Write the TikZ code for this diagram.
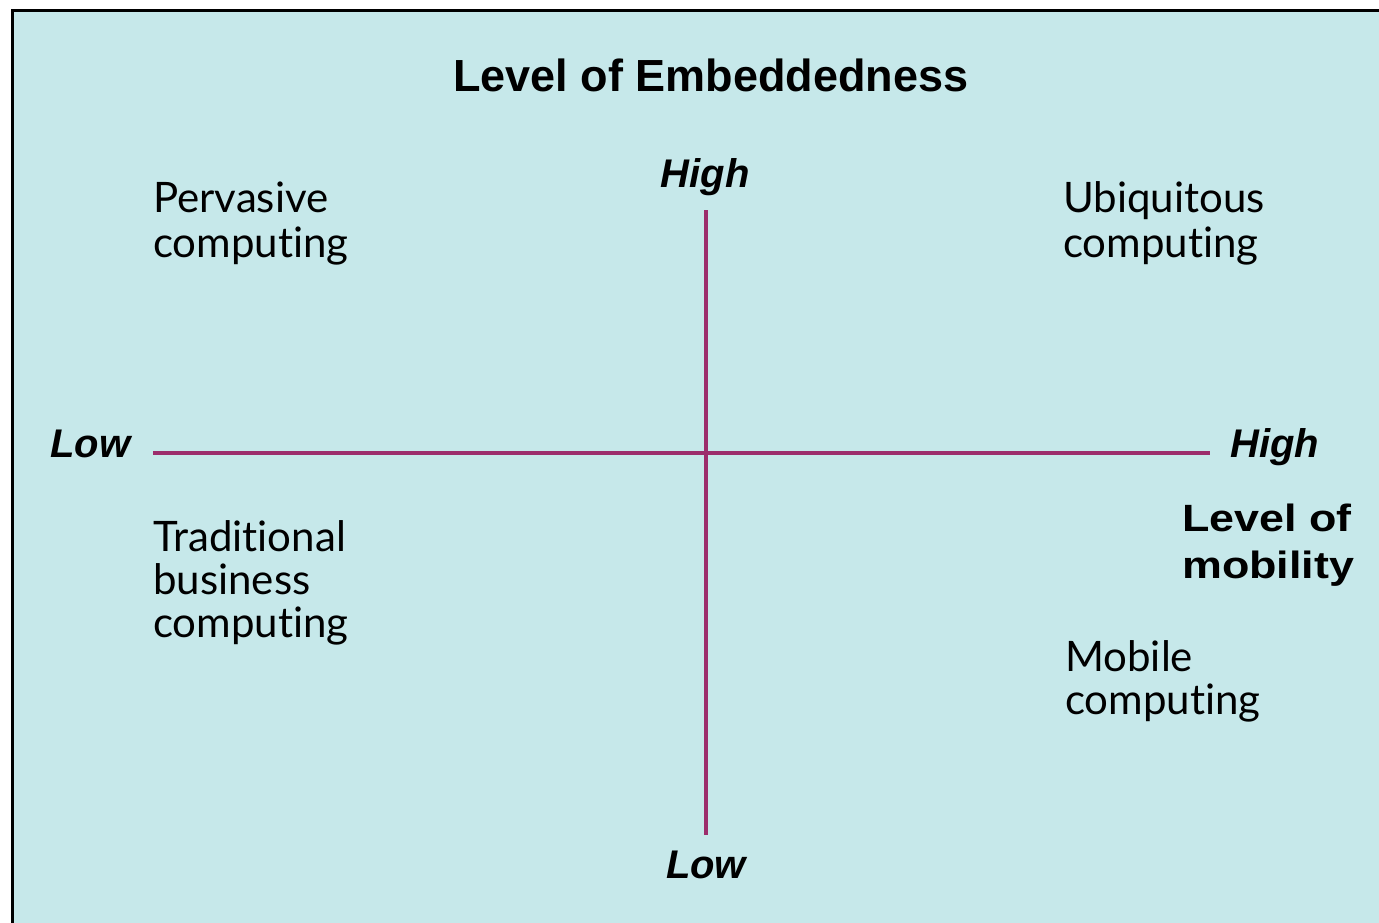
\documentclass[tikz,border=0pt]{standalone}
\usepackage{fontspec}
\usepackage{tikz}
\setmainfont{Liberation Sans}
\newfontfamily\quadfont[Ligatures=NoCommon]{Lato}
\newfontfamily\wideboldfont[FakeStretch=1.18]{Liberation Sans}
\definecolor{panelcyan}{RGB}{198,232,234}
\definecolor{axismagenta}{RGB}{156,45,108}
\tikzset{
  heading/.style={inner sep=0pt, font=\fontsize{45}{52}\selectfont\bfseries},
  endlabel/.style={inner sep=0pt, font=\fontsize{40}{46}\selectfont\bfseries\itshape},
  quadtext/.style={inner sep=0pt, align=left, font=\fontsize{42}{45}\quadfont},
  axisline/.style={axismagenta, line width=4pt}
}

\begin{document}
\begin{tikzpicture}[x=1pt,y=-1pt]
\useasboundingbox (0,0) rectangle (1379,923);
\begin{scope}
\clip (0,0) rectangle (1379,923);
\draw[black, fill=panelcyan, line width=3pt] (12.5,10.5) rectangle (1420,960);
\end{scope}
% heading and axis ends
\node[heading, anchor=base] (title) at (711,92) {Level of Embeddedness};
\node[endlabel, anchor=base] (ytop) at (705,187) {High};
\node[endlabel, anchor=base] (ybot) at (706,878) {Low};
\node[endlabel, anchor=base west] (xleft) at (50,457) {Low};
\node[endlabel, anchor=base west] (xright) at (1230,457) {High};
\node[inner sep=0pt, anchor=base west, align=left, font=\fontsize{38}{47}\wideboldfont\bfseries] (mobility) at (1182,578) {Level of\\mobility};
% axes
\coordinate (ntop) at (706,210);
\coordinate (nbot) at (706,835);
\coordinate (wend) at (153,453);
\coordinate (eend) at (1210,453);
\draw[axisline] (ntop) -- (nbot);
\draw[axisline] (wend) -- (eend);
% quadrants (base = last line)
\node[quadtext, anchor=base west] (pervasive) at (153,257) {Pervasive\\computing};
\node[quadtext, anchor=base west] (ubiquitous) at (1063,257) {Ubiquitous\\computing};
\node[quadtext, anchor=base west, font=\fontsize{42}{43}\quadfont] (traditional) at (153,637) {Traditional\\business\\computing};
\node[quadtext, anchor=base west, font=\fontsize{42}{43}\quadfont] (mobile) at (1065,714) {Mobile\\computing};
\end{tikzpicture}
\end{document}
